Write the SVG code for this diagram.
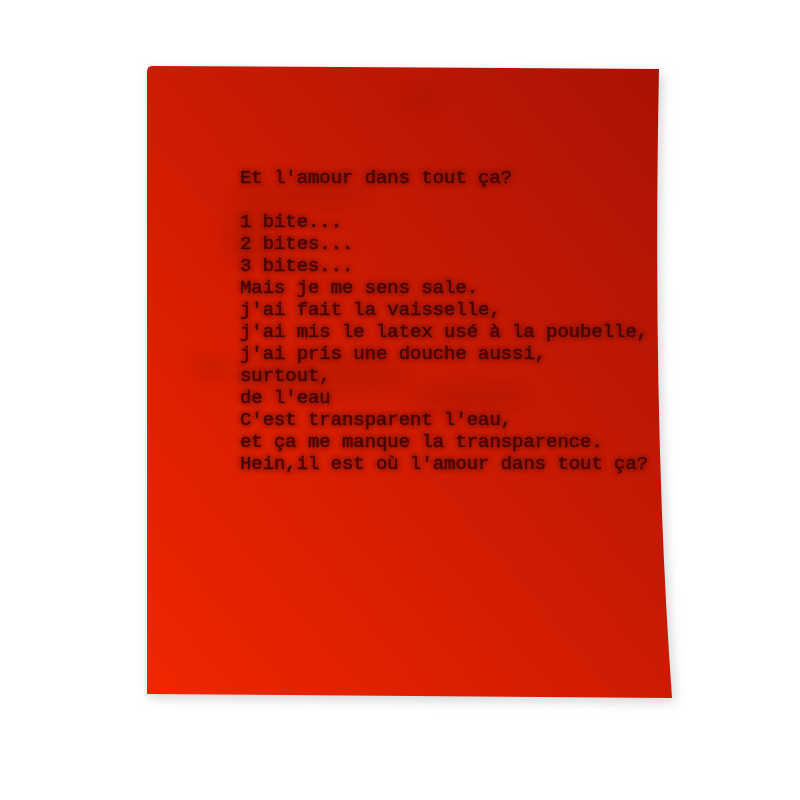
<svg xmlns="http://www.w3.org/2000/svg" width="800" height="800" viewBox="0 0 800 800">
<defs>
<linearGradient id="paper" x1="0" y1="1" x2="1" y2="0">
<stop offset="0" stop-color="#f02600"/>
<stop offset="0.45" stop-color="#d01c02"/>
<stop offset="1" stop-color="#a81205"/>
</linearGradient>
<filter id="shadow" x="-10%" y="-10%" width="120%" height="120%">
<feGaussianBlur stdDeviation="6"/>
</filter>
<filter id="ink" x="-5%" y="-50%" width="110%" height="200%">
<feGaussianBlur stdDeviation="0.7"/>
</filter>
<filter id="halo" x="-5%" y="-50%" width="110%" height="200%">
<feGaussianBlur stdDeviation="2.5"/>
</filter>
<filter id="smudge" x="-50%" y="-50%" width="200%" height="200%">
<feGaussianBlur stdDeviation="8"/>
</filter>
<style>
.t{font-family:"Liberation Mono","Courier New",monospace;font-size:18.9px;white-space:pre}
.ink{fill:#4a0705;stroke:#4a0705;stroke-width:0.5}
.halo{fill:#640a04;stroke:#640a04;stroke-width:3.5;opacity:0.5}
</style>
</defs>
<rect width="800" height="800" fill="#ffffff"/>
<path d="M147,72 Q147,66 152,66 L659,69 Q652,420 672,698 L147,694 Z" fill="#9aa0a4" opacity="0.45" filter="url(#shadow)" transform="translate(3,4)"/>
<path id="sheet" d="M147,72 Q147,66 152,66 L659,69 Q652,420 672,698 L147,694 Z" fill="url(#paper)"/>
<g id="smudges" fill="#7a0c04" opacity="0.18" filter="url(#smudge)">
<ellipse cx="300" cy="197" rx="70" ry="12"/>
<ellipse cx="250" cy="237" rx="25" ry="30"/>
<ellipse cx="320" cy="377" rx="90" ry="22"/>
<ellipse cx="470" cy="397" rx="60" ry="14"/>
<ellipse cx="210" cy="367" rx="20" ry="10"/>
<ellipse cx="420" cy="100" rx="20" ry="8"/>
</g>
<g id="text-halo" class="t halo" filter="url(#halo)">
<text x="240" y="182.5">Et l'amour dans tout ça?</text>
<text x="240" y="226.5">1 bite...</text>
<text x="240" y="248.5">2 bites...</text>
<text x="240" y="270.5">3 bites...</text>
<text x="240" y="292.5">Mais je me sens sale.</text>
<text x="240" y="314.5">j'ai fait la vaisselle,</text>
<text x="240" y="336.5">j'ai mis le latex usé à la poubelle,</text>
<text x="240" y="358.5">j'ai pris une douche aussi,</text>
<text x="240" y="380.5">surtout,</text>
<text x="240" y="402.5">de l'eau</text>
<text x="240" y="424.5">C'est transparent l'eau,</text>
<text x="240" y="446.5">et ça me manque la transparence.</text>
<text x="240" y="468.5">Hein,il est où l'amour dans tout ça?</text>
</g>
<g id="poem" class="t ink" filter="url(#ink)">
<text x="240" y="182.5">Et l'amour dans tout ça?</text>
<text x="240" y="226.5">1 bite...</text>
<text x="240" y="248.5">2 bites...</text>
<text x="240" y="270.5">3 bites...</text>
<text x="240" y="292.5">Mais je me sens sale.</text>
<text x="240" y="314.5">j'ai fait la vaisselle,</text>
<text x="240" y="336.5">j'ai mis le latex usé à la poubelle,</text>
<text x="240" y="358.5">j'ai pris une douche aussi,</text>
<text x="240" y="380.5">surtout,</text>
<text x="240" y="402.5">de l'eau</text>
<text x="240" y="424.5">C'est transparent l'eau,</text>
<text x="240" y="446.5">et ça me manque la transparence.</text>
<text x="240" y="468.5">Hein,il est où l'amour dans tout ça?</text>
</g>
</svg>
